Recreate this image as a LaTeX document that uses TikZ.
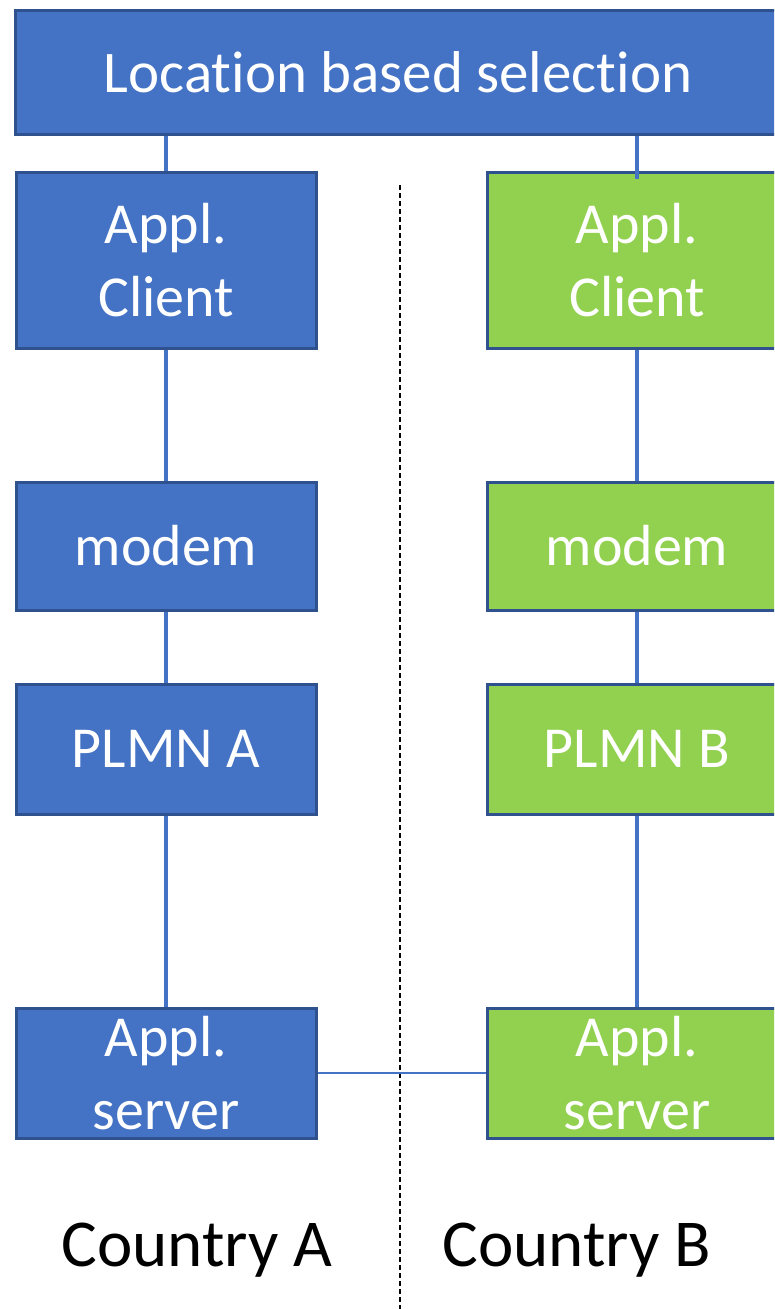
\documentclass[tikz,border=0pt]{standalone}
\usepackage{fontspec}
\setmainfont{Carlito}[Ligatures=NoCommon]
\definecolor{boxblue}{HTML}{4472C4}
\definecolor{boxgreen}{HTML}{92D050}
\definecolor{edgeblue}{HTML}{2F528F}
\tikzset{
  unitbox/.style={draw=edgeblue, line width=3pt, text=white, align=center,
    inner sep=0pt, minimum width=300pt,
    font=\fontsize{58}{73}\selectfont},
  bluebox/.style={unitbox, fill=boxblue},
  greenbox/.style={unitbox, fill=boxgreen},
  link/.style={draw=boxblue, line width=4.5pt},
  thinlink/.style={draw=boxblue, line width=1.5pt},
  border/.style={draw=black, line width=1.3pt, dash pattern=on 5pt off 3pt},
  countrylabel/.style={font=\fontsize{67}{78}\selectfont, text=black, inner sep=0pt}
}
\begin{document}
\begin{tikzpicture}[x=1pt, y=-1pt]
  \useasboundingbox (0,0) rectangle (774,1309);
  \clip (0,0) rectangle (774,1309);

  % country border
  \coordinate (borderTop) at (400,185);
  \coordinate (borderBottom) at (400,1309);
  \draw[border] (borderTop) -- (borderBottom);

  % selection box spanning both countries (runs past the right edge)
  \node[bluebox, minimum width=800pt, minimum height=124pt, anchor=west] (select) at (14,72) {};
  \node[text=white, inner sep=0pt, font=\fontsize{59}{73}\selectfont] (selectText) at (398,72)
    {Location based selection};

  % country A stack
  \node[bluebox, minimum height=176pt] (clientA) at (166,260) {Appl.\\Client};
  \node[bluebox, minimum height=128pt] (modemA)  at (166,546) {modem};
  \node[bluebox, minimum height=130pt] (plmnA)   at (166,749) {PLMN A};
  \node[bluebox, minimum height=130pt] (serverA) at (166,1073) {Appl.\\server};

  % country B stack
  \node[greenbox, minimum height=176pt] (clientB) at (637,260) {Appl.\\Client};
  \node[greenbox, minimum height=128pt] (modemB)  at (637,546) {modem};
  \node[greenbox, minimum height=130pt] (plmnB)   at (637,749) {PLMN B};
  \node[greenbox, minimum height=130pt] (serverB) at (637,1073) {Appl.\\server};

  % vertical links
  \draw[link] (clientA.north |- select.south) -- (clientA.north);
  \draw[link] (clientB.north |- select.south) -- ([yshift=-8pt]clientB.north);
  \draw[link] (clientA.south) -- (modemA.north);
  \draw[link] (modemA.south) -- (plmnA.north);
  \draw[link] (plmnA.south) -- (serverA.north);
  \draw[link] (clientB.south) -- (modemB.north);
  \draw[link] (modemB.south) -- (plmnB.north);
  \draw[link] (plmnB.south) -- (serverB.north);

  % server-to-server link
  \draw[thinlink] (serverA.east) -- (serverB.west);

  % country labels
  \node[countrylabel] (countryA) at (197,1250) {Country A};
  \node[countrylabel] (countryB) at (577,1250) {Country B};
\end{tikzpicture}
\end{document}
